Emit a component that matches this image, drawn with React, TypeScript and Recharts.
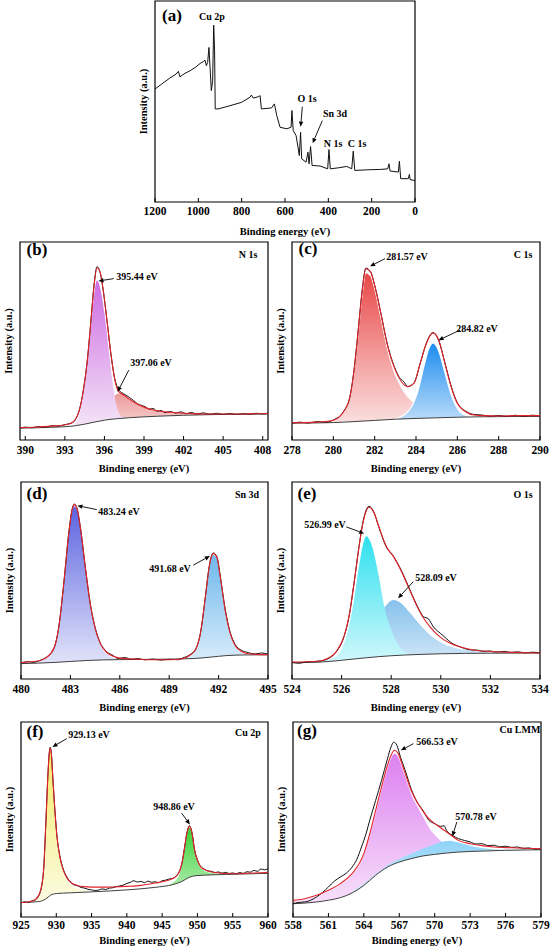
import React from 'react';
import { ComposedChart, Line, Area, XAxis, YAxis, ReferenceLine, ReferenceArea } from 'recharts';

type Pt = [number, number];

const FONT = '"Liberation Serif", "Times New Roman", serif';

// (a) survey spectrum
const surveyTicks = [0, 200, 400, 600, 800, 1000, 1200];
const surveyRaw: Pt[] = [
  [1200, 56.2], [1169, 58.7], [1131, 61.7], [1103, 63.6], [1092, 65.0], [1085, 62.3], [1062, 64.0],
  [1038, 65.3], [1015, 66.9], [992, 68.9], [977, 69.9], [969, 70.6], [963, 67.8], [957, 69.4],
  [951, 76.9], [946, 66.9], [940, 55.4], [934, 60.3], [929, 88.0], [925, 75.2], [922, 46.3],
  [908, 46.3], [854, 47.9], [800, 49.6], [762, 52.1], [755, 53.2], [746, 51.7], [723, 52.4],
  [715, 52.9], [709, 46.3], [662, 46.8], [649, 48.8], [638, 43.0], [623, 37.2], [592, 36.4],
  [572, 37.2], [568, 45.5], [562, 35.5], [549, 33.1], [540, 27.3], [534, 23.1], [528, 34.7],
  [523, 21.5], [503, 19.8], [494, 24.8], [489, 19.0], [482, 27.6], [475, 18.2], [438, 17.9],
  [403, 16.5], [397, 26.1], [391, 16.5], [354, 17.0], [315, 17.7], [292, 16.5], [285, 25.3],
  [278, 15.7], [223, 16.0], [162, 16.2], [126, 16.5], [120, 19.0], [115, 15.4], [77, 14.9],
  [72, 20.3], [66, 11.6], [31, 11.6], [26, 13.7], [22, 11.1], [0, 10.7],
];

// (b) N 1s
const n1sTicks = [390, 393, 396, 399, 402, 405, 408];
const n1sRaw: Pt[] = [
  [389.6, 6.0], [390, 6.5], [390.5, 6.2], [391, 6.8], [391.5, 6.5], [392, 7.2], [392.5, 7.0], [393, 7.8],
  [393.5, 8.5], [393.8, 10.3], [394.1, 15.2], [394.4, 25], [394.7, 40], [395, 62], [395.2, 77.5],
  [395.44, 87.5], [395.7, 84], [395.9, 76], [396.2, 60], [396.5, 43], [396.8, 30.5], [397.06, 25.5],
  [397.3, 24], [397.6, 22.8], [397.9, 21.5], [398.2, 20], [398.5, 18.3], [398.8, 17.5], [399.1, 16.8],
  [399.4, 15.6], [399.7, 15.9], [400, 14.5], [400.3, 14.9], [400.6, 13.8], [401, 14.4], [401.4, 13.6],
  [401.8, 14.2], [402.2, 13.3], [402.6, 13.9], [403, 13.1], [403.5, 13.7], [404, 13.0], [404.5, 13.5],
  [405, 12.9], [405.5, 13.4], [406, 12.9], [406.5, 13.3], [407, 13.0], [407.5, 13.5], [408, 13.2], [408.4, 13.6],
];
const n1sFit: Pt[] = [
  [389.6, 6.2], [391, 6.6], [392, 7.0], [393, 7.6], [393.5, 8.6], [393.8, 10.5], [394.1, 15], [394.4, 25],
  [394.7, 40], [395, 62], [395.2, 77], [395.44, 87], [395.7, 84], [395.9, 76], [396.2, 60], [396.5, 43],
  [396.8, 30], [397.06, 24.5], [397.4, 23], [397.8, 21], [398.2, 19.3], [398.6, 17.8], [399, 16.6],
  [399.5, 15.5], [400, 14.8], [401, 14], [402, 13.5], [403, 13.2], [404, 13.1], [406, 13.1], [407, 13.2], [408.4, 13.4],
];
const n1sBg: Pt[] = [
  [389.6, 6.0], [392, 6.4], [393, 6.7], [393.8, 7.2], [394.5, 8.0], [395.2, 9.0], [396, 10.0], [397, 10.8],
  [398, 11.3], [400, 12.0], [402, 12.5], [404, 12.8], [406, 13.0], [408.4, 13.1],
];
const n1sPeak397: Pt[] = [
  [393.5, 6.8], [394.2, 8], [394.8, 9.8], [395.3, 12], [395.8, 15], [396.3, 19], [396.7, 22], [397.06, 23.5],
  [397.5, 22.8], [398, 20.5], [398.5, 18.3], [399, 16.7], [399.5, 15.5], [400, 14.7], [401, 13.9], [402, 13.5],
  [404, 13.2], [406, 13.1], [408.4, 13.3],
];
const n1sPeak395: Pt[] = [
  [393.3, 6.8], [393.8, 8.5], [394.1, 13], [394.4, 23], [394.7, 38], [395, 58], [395.2, 72], [395.44, 80.5],
  [395.7, 76], [396, 64], [396.3, 47], [396.6, 30], [396.9, 18], [397.2, 12.5], [397.6, 11.2], [398, 11.3],
];

// (c) C 1s
const c1sTicks = [278, 280, 282, 284, 286, 288, 290];
const c1sRaw: Pt[] = [
  [278, 8.5], [278.4, 9.0], [278.8, 8.6], [279.2, 9.3], [279.6, 9.0], [280, 10.1], [280.5, 14.5], [280.8, 21.6],
  [281, 35.2], [281.2, 55], [281.4, 75.8], [281.57, 86.8], [281.8, 85], [282, 78.2], [282.3, 64], [282.6, 49],
  [283, 35.8], [283.2, 31.5], [283.4, 29.6], [283.6, 27], [283.9, 28.8], [284.2, 38.5], [284.5, 48.9],
  [284.82, 54.3], [285.1, 50.2], [285.4, 38.9], [285.7, 27.2], [286, 18.8], [286.4, 14.6], [286.8, 12.9],
  [287.2, 12.6], [287.6, 12.0], [288, 12.4], [288.4, 11.9], [288.8, 12.5], [289.2, 12.0], [289.6, 12.5], [290, 12.2],
];
const c1sFit: Pt[] = [
  [278, 8.7], [279, 8.9], [279.5, 9.2], [280, 10], [280.5, 14.3], [280.8, 21.8], [281, 35], [281.2, 55],
  [281.4, 75.6], [281.57, 86.5], [281.8, 84.9], [282, 78], [282.3, 63.9], [282.6, 48.7], [283, 35.3],
  [283.3, 29.4], [283.6, 26.9], [283.9, 28.6], [284.2, 38.7], [284.5, 48.7], [284.82, 54.1], [285.1, 50.4],
  [285.4, 38.7], [285.7, 26.9], [286, 18.5], [286.4, 14.3], [286.8, 12.6], [287.2, 12.3], [288, 12.1], [289, 12.3], [290, 12.3],
];
const c1sBg: Pt[] = [
  [278, 8.5], [280, 8.8], [281, 9.3], [282, 9.9], [283, 10.5], [284, 10.9], [285, 11.2], [286, 11.5], [287, 11.7], [290, 11.9],
];
const c1sPeak281: Pt[] = [
  [279, 8.8], [279.5, 9.0], [280, 9.8], [280.5, 14], [280.8, 21.5], [281, 34.5], [281.2, 54], [281.4, 74],
  [281.57, 84.5], [281.8, 83], [282, 76.5], [282.3, 62], [282.6, 47], [283, 33], [283.3, 26.5], [283.6, 22],
  [284, 18], [284.5, 14.5], [285, 12.5], [285.5, 11.6], [286, 11.5],
];
const c1sPeak284: Pt[] = [
  [283, 10.6], [283.4, 12.5], [283.8, 17], [284.1, 25], [284.4, 38], [284.6, 45.5], [284.82, 49], [285.1, 45],
  [285.4, 34], [285.7, 23], [286, 16], [286.4, 12.5], [286.8, 11.7], [287.2, 11.7],
];

// (d) Sn 3d
const sn3dTicks = [480, 483, 486, 489, 492, 495];
const sn3dRaw: Pt[] = [
  [480, 8.0], [480.4, 8.8], [480.8, 8.5], [481.2, 9.6], [481.5, 10.8], [482, 15.5], [482.3, 26.8], [482.6, 48.8],
  [482.9, 74], [483.1, 86], [483.24, 88.8], [483.4, 86.7], [483.6, 77.4], [483.9, 57.2], [484.2, 38.6],
  [484.5, 26.2], [484.8, 18.6], [485.2, 13.9], [485.6, 11.9], [485.9, 10.4], [486.3, 10.9], [486.7, 10.0],
  [487.1, 10.4], [487.5, 9.7], [488, 10.1], [488.5, 9.6], [489, 10.0], [489.5, 9.8], [489.8, 10.6],
  [490.3, 12.6], [490.6, 15.1], [490.9, 23.5], [491.2, 42], [491.4, 55.6], [491.55, 62], [491.68, 64],
  [491.9, 62], [492.1, 52.3], [492.4, 35.5], [492.7, 23.8], [493, 17.6], [493.4, 14.5], [493.8, 13.4],
  [494.2, 12.7], [494.6, 13.2], [495, 12.6],
];
const sn3dFit: Pt[] = [
  [480, 8.4], [481, 9.1], [481.5, 10.6], [482, 15.7], [482.3, 26.6], [482.6, 48.6], [482.9, 73.9], [483.1, 85.7],
  [483.24, 88.5], [483.4, 86.5], [483.6, 77.2], [483.9, 57], [484.2, 38.4], [484.5, 25.8], [484.8, 18.2],
  [485.2, 13.5], [485.6, 11.5], [486, 10.6], [487, 10.1], [488, 9.8], [489, 9.8], [489.8, 10.3], [490.3, 12.3],
  [490.6, 14.8], [490.9, 23.3], [491.2, 41.8], [491.4, 55.3], [491.55, 61.7], [491.68, 63.7], [491.9, 61.7],
  [492.1, 51.9], [492.4, 35], [492.7, 23.3], [493, 17], [493.4, 14], [493.8, 12.8], [494.3, 12.5], [495, 12.3],
];
const sn3dBg: Pt[] = [
  [480, 7.8], [482, 8.4], [483, 8.9], [484, 9.4], [485, 9.7], [487, 9.9], [489, 10.1], [490.5, 10.4],
  [491.5, 11.1], [492.5, 11.9], [493.5, 12.2], [495, 12.3],
];
const sn3dPeak483: Pt[] = [
  [481, 8.9], [481.5, 10.4], [482, 15.4], [482.3, 26.2], [482.6, 48], [482.9, 73], [483.1, 84.8], [483.24, 87.6],
  [483.4, 85.6], [483.6, 76.4], [483.9, 56.3], [484.2, 37.8], [484.5, 25.2], [484.8, 17.6], [485.2, 12.8],
  [485.6, 10.8], [486, 10],
];
const sn3dPeak491: Pt[] = [
  [489.5, 10.2], [490.3, 11.9], [490.6, 14.3], [490.9, 22.7], [491.2, 41], [491.4, 54.5], [491.55, 61],
  [491.68, 63], [491.9, 61], [492.1, 51.2], [492.4, 34.3], [492.7, 22.6], [493, 16.4], [493.4, 13.4],
  [493.8, 12.4], [494.3, 12.3],
];

// (e) O 1s
const o1sTicks = [524, 526, 528, 530, 532, 534];
const o1sRaw: Pt[] = [
  [524, 8.4], [524.3, 8.0], [524.6, 8.7], [525, 8.9], [525.3, 9.6], [525.5, 10.6], [525.8, 14], [526.1, 21.6],
  [526.3, 31.7], [526.5, 48.6], [526.7, 67.1], [526.85, 78.9], [527, 86], [527.1, 87.7], [527.3, 84.8],
  [527.5, 77.2], [527.8, 67.1], [528.1, 62.1], [528.4, 55.3], [528.7, 46.9], [529, 38.4], [529.3, 31.7],
  [529.5, 30.5], [529.7, 26.5], [530, 23], [530.2, 20.8], [530.4, 18.6], [530.8, 16.2], [531.2, 14.8],
  [531.5, 14.6], [531.7, 14.0], [532, 14.2], [532.2, 13.7], [532.6, 14.0], [532.8, 13.5], [533.1, 13.8],
  [533.4, 13.3], [533.7, 13.6], [534, 13.2],
];
const o1sFit: Pt[] = [
  [524, 8.6], [525, 9.0], [525.5, 10.8], [525.8, 14.2], [526.1, 21.8], [526.3, 31.9], [526.5, 48.4], [526.7, 66.8],
  [526.85, 78.5], [527, 85.5], [527.1, 87.2], [527.3, 84.5], [527.5, 77.4], [527.8, 67.4], [528.1, 62],
  [528.4, 55], [528.7, 46.5], [529, 38], [529.3, 31], [529.6, 26], [530, 21], [530.4, 18], [530.8, 16.2],
  [531.2, 15], [531.7, 14.2], [532.2, 13.8], [532.8, 13.5], [533.4, 13.3], [534, 13.2],
];
const o1sBg: Pt[] = [
  [524, 8.3], [525, 8.5], [526, 9.5], [527, 10.8], [528, 11.8], [529, 12.4], [530, 12.8], [531, 13.0], [532, 13.1], [534, 13.2],
];
const o1sPeak528: Pt[] = [
  [524.5, 8.4], [525, 8.9], [525.8, 11], [526.4, 14], [527, 22], [527.5, 32], [527.8, 37.5], [528.09, 40.1],
  [528.4, 38.5], [528.8, 33], [529.2, 27], [529.6, 22], [530, 18.5], [530.5, 16], [531, 14.8], [531.5, 14],
  [532, 13.5], [533, 13.3], [534, 13.2],
];
const o1sPeak526: Pt[] = [
  [525.2, 8.8], [525.5, 9.5], [525.9, 13], [526.2, 22], [526.5, 40], [526.7, 57], [526.9, 70], [526.99, 72.5],
  [527.15, 70], [527.3, 64], [527.5, 52], [527.7, 38], [528, 25], [528.3, 17], [528.7, 13], [529.2, 12.3],
];

// (f) Cu 2p
const cu2pTicks = [925, 930, 935, 940, 945, 950, 955, 960];
const cu2pRaw: Pt[] = [
  [925, 7.2], [925.5, 7.8], [926, 7.5], [926.5, 8.2], [927, 8.7], [927.7, 12.5], [928.2, 24], [928.5, 46.5],
  [928.8, 72], [929, 84], [929.13, 87], [929.3, 84], [929.5, 72], [929.8, 55], [930.1, 41.5], [930.5, 31.5],
  [931, 24.5], [931.5, 20.5], [932, 18], [932.5, 16.5], [933, 16], [933.5, 15.2], [934, 14.8], [934.5, 14.2],
  [935, 13.9], [935.5, 13.6], [936, 13.8], [936.5, 14.4], [937, 14.1], [937.5, 14.8], [938, 15.0], [938.5, 15.6],
  [939, 15.9], [939.5, 16.4], [940, 17.2], [940.5, 17.8], [941, 18.6], [941.5, 17.9], [942, 18.3], [942.5, 17.6],
  [943, 18.4], [943.5, 17.8], [944, 18.1], [944.5, 17.6], [945, 18.6], [945.5, 18.9], [946, 19.5], [946.5, 19.8],
  [947, 21], [947.3, 22.4], [947.8, 27.6], [948.2, 36.2], [948.5, 43], [948.86, 46.8], [949.2, 43.8],
  [949.6, 34.5], [950, 29.3], [950.5, 25.8], [951, 24.5], [951.5, 23.6], [952, 23.4], [952.5, 22.8], [953, 23.1],
  [953.5, 22.5], [954, 22.9], [954.5, 22.3], [955, 22.6], [955.5, 22.2], [956, 22.8], [956.5, 22.4], [957, 23.2],
  [957.5, 23.0], [958, 23.9], [958.5, 23.4], [959, 24.6], [959.5, 24.2], [960, 24.8],
];
const cu2pFit: Pt[] = [
  [925, 7.4], [926, 7.7], [927, 8.9], [927.7, 12.8], [928.2, 23.9], [928.5, 46.2], [928.8, 71.8], [929, 83.8],
  [929.13, 86.7], [929.3, 83.8], [929.5, 71.8], [929.8, 54.7], [930.1, 41], [930.5, 30.8], [931, 23.9],
  [931.5, 20], [932, 17.9], [933, 16.2], [934, 15.6], [936, 15.3], [938, 15.4], [940, 15.7], [942, 16.2],
  [944, 17.4], [945.5, 18.5], [946.5, 19.7], [947.3, 22.2], [947.8, 27.4], [948.2, 35.9], [948.5, 42.7],
  [948.86, 46.5], [949.2, 43.6], [949.6, 34.2], [950, 29], [950.5, 25.6], [951, 24.3], [952, 23.1], [953, 22.6],
  [955, 22.2], [957, 22.4], [959, 22.7], [960, 22.9],
];
const cu2pBg: Pt[] = [
  [925, 7.4], [927.5, 7.9], [928.5, 9.2], [929.2, 11.2], [930, 12.0], [932, 12.4], [935, 12.9], [940, 13.9],
  [944, 15.2], [946.5, 16.6], [947.8, 18.2], [948.8, 20.3], [949.8, 21.2], [952, 21.6], [956, 22.0], [960, 22.4],
];
const cu2pPeak929: Pt[] = [
  [926.5, 7.9], [927, 8.4], [927.7, 12.2], [928.2, 23], [928.5, 45], [928.8, 70.5], [929, 82.6], [929.13, 85.5],
  [929.3, 82.6], [929.5, 70.5], [929.8, 53.5], [930.1, 40], [930.5, 30], [931, 22.8], [931.5, 18.8], [932, 16.6],
  [933, 14.6], [934, 13.6], [936, 13.2], [938, 13.5],
];
const cu2pPeak948: Pt[] = [
  [945.5, 16.0], [946.5, 17.6], [947.3, 20.6], [947.8, 26.5], [948.2, 35], [948.5, 42], [948.86, 45.8], [949.2, 43],
  [949.6, 33.6], [950, 28.3], [950.5, 25], [951, 23.6], [952, 22.6], [953, 22.2], [955, 22.0], [957, 22.1],
];

// (g) Cu LMM
const culmmTicks = [558, 561, 564, 567, 570, 573, 576, 579];
const culmmRaw: Pt[] = [
  [558, 6.8], [558.5, 7.5], [559, 7.7], [559.5, 8.6], [560, 10.3], [560.5, 12.6], [561, 15.4], [561.5, 18.4],
  [562, 20.5], [562.5, 22.4], [563, 25.6], [563.4, 29.5], [563.8, 35.9], [564.2, 43], [564.5, 49.6], [565, 59.8],
  [565.5, 70.1], [566, 81.2], [566.3, 87.2], [566.53, 89.7], [566.8, 88], [567.1, 82], [567.5, 75.2], [568, 65.8],
  [568.5, 59], [569, 54.7], [569.5, 49.6], [570, 47.9], [570.5, 46.5], [570.8, 46.8], [571, 44.4], [571.5, 41.9],
  [572, 40.2], [572.5, 39.3], [573, 38.5], [573.5, 37.4], [574, 37.6], [574.5, 36.6], [575, 36.8], [575.5, 36.0],
  [576, 36.3], [576.5, 35.7], [577, 35.9], [577.5, 35.2], [578, 35.4], [578.5, 34.8], [579, 34.9],
];
const culmmFit: Pt[] = [
  [558, 8.5], [559, 9.4], [560, 11.1], [561, 13.7], [562, 17.1], [563, 22.2], [564, 32.5], [564.5, 42.7],
  [565, 54.7], [565.5, 66.7], [566, 77.8], [566.3, 82.9], [566.6, 85.5], [566.9, 83.8], [567.2, 79], [567.6, 71.8],
  [568, 65], [568.5, 59], [569, 54.4], [569.5, 50.4], [570, 47.9], [570.5, 45.8], [571, 43.6], [571.5, 41.4],
  [572, 39.3], [573, 37.6], [574, 36.6], [575, 35.9], [576, 35.6], [577, 35.4], [579, 35],
];
const culmmBg: Pt[] = [
  [558, 6.8], [560, 7.7], [561, 8.6], [562, 9.9], [563, 12.3], [564, 16.2], [565, 21.4], [566, 25.6], [567, 28.2],
  [568, 29.9], [569, 31.3], [570, 32.1], [571, 32.8], [572, 33.3], [574, 33.8], [576, 34.2], [579, 34.5],
];
const culmmPeak566: Pt[] = [
  [558, 8.2], [559, 9.0], [560, 10.7], [561, 13.2], [562, 16.5], [563, 21.5], [564, 31.5], [564.5, 41.5],
  [565, 53], [565.5, 65], [566, 76], [566.3, 81.3], [566.6, 83.8], [566.9, 82], [567.2, 77], [567.6, 70],
  [568, 63], [568.5, 57], [569, 51.5], [569.5, 46], [570, 42], [570.5, 39], [571, 36.5], [572, 34.6], [573, 34],
];
const culmmPeak570: Pt[] = [
  [563, 13], [564, 17], [565, 22], [566, 26.5], [567, 29.8], [568, 32.5], [569, 35], [570, 37.3], [570.8, 38.8],
  [571.3, 39.1], [572, 38.2], [573, 36.6], [574, 35.4], [575, 34.8], [576, 34.5], [579, 34.5],
];

const rows = (pts: Pt[]) => pts.map(([x, y]) => ({ x, y }));

interface Fill {
  pts: Pt[];
  top: string;
  bottom: string;
  edge?: string;
}

interface Spec {
  id: string;
  box: [number, number, number, number];
  domain: [number, number];
  ticks: number[];
  reversed?: boolean;
  raw: Pt[];
  fit?: Pt[];
  bg?: Pt[];
  fills?: Fill[];
  arrows: [Pt, Pt][];
  tickGap: number;
  titleGap: number;
  curve: 'monotone' | 'linear';
}

const specs: Spec[] = [
  {
    id: 'a', box: [155, 1, 415, 202], domain: [0, 1200], ticks: surveyTicks, reversed: true,
    raw: surveyRaw, curve: 'linear', tickGap: 9, titleGap: 29,
    arrows: [[[520, 47.4], [527.7, 37.5]], [[427.7, 40.5], [472.3, 29.3]]],
  },
  {
    id: 'b', box: [20, 242, 268, 440], domain: [389.6, 408.4], ticks: n1sTicks,
    raw: n1sRaw, fit: n1sFit, bg: n1sBg, curve: 'monotone', tickGap: 10, titleGap: 28,
    fills: [
      { pts: n1sPeak397, top: '#ec9a9a', bottom: '#fbeaea' },
      { pts: n1sPeak395, top: '#cf6ee3', bottom: '#f7eef9' },
    ],
    arrows: [[[396.7, 81.5], [395.55, 80.3]], [[397.85, 35.3], [397.0, 24.4]]],
  },
  {
    id: 'c', box: [292, 242, 540, 440], domain: [278, 290], ticks: c1sTicks,
    raw: c1sRaw, fit: c1sFit, bg: c1sBg, curve: 'monotone', tickGap: 10, titleGap: 28,
    fills: [
      { pts: c1sPeak281, top: '#e94848', bottom: '#fdf0f0', edge: '#ffffff' },
      { pts: c1sPeak284, top: '#1b8cf0', bottom: '#e3f0fb', edge: '#ffffff' },
    ],
    arrows: [[[282.5, 91.6], [281.78, 87.7]], [[286.13, 55.5], [285.09, 50.4]]],
  },
  {
    id: 'd', box: [21, 482, 268, 679], domain: [480, 495], ticks: sn3dTicks,
    raw: sn3dRaw, fit: sn3dFit, bg: sn3dBg, curve: 'monotone', tickGap: 10, titleGap: 28,
    fills: [
      { pts: sn3dPeak483, top: '#5c63e0', bottom: '#eef0fc' },
      { pts: sn3dPeak491, top: '#6fb8ec', bottom: '#eaf5fd' },
    ],
    arrows: [[[484.6, 86], [483.43, 88]], [[490.46, 57.8], [491.47, 62.4]]],
  },
  {
    id: 'e', box: [292, 482, 540, 679], domain: [524, 534], ticks: o1sTicks,
    raw: o1sRaw, fit: o1sFit, bg: o1sBg, curve: 'monotone', tickGap: 10, titleGap: 28,
    fills: [
      { pts: o1sPeak528, top: '#86c1ec', bottom: '#e7f2fb' },
      { pts: o1sPeak526, top: '#2fe0ef', bottom: '#e6fbfd' },
    ],
    arrows: [[[526.19, 77.2], [526.91, 73.9]], [[528.89, 49.4], [528.28, 41]]],
  },
  {
    id: 'f', box: [21, 722, 268, 917], domain: [925, 960], ticks: cu2pTicks,
    raw: cu2pRaw, fit: cu2pFit, bg: cu2pBg, curve: 'monotone', tickGap: 8, titleGap: 23,
    fills: [
      { pts: cu2pPeak929, top: '#f2ec6a', bottom: '#fdfcec' },
      { pts: cu2pPeak948, top: '#36d236', bottom: '#e6f8e2' },
    ],
    arrows: [[[931.5, 91.5], [929.46, 87.2]], [[947.75, 53.3], [948.93, 47.5]]],
  },
  {
    id: 'g', box: [293, 722, 541, 917], domain: [558, 579], ticks: culmmTicks,
    raw: culmmRaw, fit: culmmFit, bg: culmmBg, curve: 'monotone', tickGap: 8, titleGap: 23,
    fills: [
      { pts: culmmPeak566, top: '#dc80f0', bottom: '#fae9fc' },
      { pts: culmmPeak570, top: '#8fd3f7', bottom: '#e6f4fc' },
    ],
    arrows: [[[568.19, 88.9], [567.14, 85.5]], [[571.87, 48.7], [571.5, 41.4]]],
  },
];

// text placed on the page: [text, x, y, size]
const labels: [string, number, number, number][] = [
  ['(a)', 172, 15, 17], ['Cu 2p', 212, 17, 10], ['O 1s', 307, 99, 10], ['Sn 3d', 335, 114, 10],
  ['N 1s', 333, 144, 10], ['C 1s', 357, 144, 10],
  ['(b)', 37, 249, 17], ['N 1s', 248, 255, 10], ['395.44 eV', 137, 277, 10], ['397.06 eV', 151, 363, 10],
  ['(c)', 308, 248, 17], ['C 1s', 523, 255, 10], ['281.57 eV', 407, 257, 10], ['284.82 eV', 477, 329, 10],
  ['(d)', 37, 493, 17], ['Sn 3d', 247, 495, 10], ['483.24 eV', 119, 512, 10], ['491.68 eV', 170, 569, 10],
  ['(e)', 307, 493, 17], ['O 1s', 523, 495, 10], ['526.99 eV', 325, 525, 10], ['528.09 eV', 436, 578, 10],
  ['(f)', 35, 731, 17], ['Cu 2p', 248, 733, 10], ['929.13 eV', 89, 735, 10], ['948.86 eV', 174, 807, 10],
  ['(g)', 307, 730, 17], ['Cu LMM', 520, 730, 10], ['566.53 eV', 437, 742, 10], ['570.78 eV', 476, 817, 10],
];

const arrowShape = (p: any) => {
  const { x1, y1, x2, y2 } = p;
  const a = Math.atan2(y2 - y1, x2 - x1);
  const len = 5;
  const half = 2.2;
  const bx = x2 - len * Math.cos(a);
  const by = y2 - len * Math.sin(a);
  const nx = -Math.sin(a) * half;
  const ny = Math.cos(a) * half;
  return (
    <g>
      <line x1={x1} y1={y1} x2={bx} y2={by} stroke="#000" strokeWidth={0.9} />
      <polygon points={`${x2},${y2} ${bx + nx},${by + ny} ${bx - nx},${by - ny}`} fill="#000" />
    </g>
  );
};

const YPAD = 26;
const RPAD = 12;
const BOTTOM = 44;
const textStyle = { fontFamily: FONT, fontWeight: 'bold' as const, fill: '#000' };

function Panel({ s }: { s: Spec }) {
  const [l, t, r, b] = s.box;
  const w = r - l + YPAD + RPAD;
  const h = b - t + 4 + BOTTOM;
  return (
    <div style={{ position: 'absolute', left: l - YPAD, top: t - 4 }}>
      <ComposedChart width={w} height={h} margin={{ top: 4, right: RPAD, bottom: 0, left: 0 }}>
        <defs>
          {(s.fills || []).map((f, i) => (
            <linearGradient key={i} id={`grad-${s.id}-${i}`} x1="0" y1="0" x2="0" y2="1">
              <stop offset="0%" stopColor={f.top} />
              <stop offset="100%" stopColor={f.bottom} />
            </linearGradient>
          ))}
        </defs>
        <XAxis
          dataKey="x"
          type="number"
          domain={s.domain}
          ticks={s.ticks}
          reversed={s.reversed}
          allowDataOverflow
          interval={0}
          height={BOTTOM}
          axisLine={false}
          tickSize={-4}
          tickMargin={s.tickGap}
          tickLine={{ stroke: '#000', strokeWidth: 1 }}
          tick={{ ...textStyle, fontSize: 11.5 }}
          label={(p: any) => (
            <text
              x={p.viewBox.x + p.viewBox.width / 2}
              y={p.viewBox.y + s.titleGap}
              textAnchor="middle"
              dominantBaseline="central"
              fontSize={10.5}
              style={textStyle}
            >
              Binding energy (eV)
            </text>
          )}
        />
        <YAxis
          type="number"
          domain={[0, 100]}
          allowDataOverflow
          width={YPAD}
          tick={false}
          tickLine={false}
          axisLine={false}
          label={(p: any) => {
            const cx = p.viewBox.x + p.viewBox.width - 12;
            const cy = p.viewBox.y + p.viewBox.height / 2;
            return (
              <text
                x={cx}
                y={cy}
                transform={`rotate(-90 ${cx} ${cy})`}
                textAnchor="middle"
                dominantBaseline="central"
                fontSize={10.5}
                style={textStyle}
              >
                Intensity (a.u.)
              </text>
            );
          }}
        />
        {(s.fills || []).map((f, i) => (
          <Area
            key={`fill-${i}`}
            data={rows(f.pts)}
            dataKey="y"
            type="monotone"
            fill={`url(#grad-${s.id}-${i})`}
            fillOpacity={1}
            stroke={f.edge || 'none'}
            strokeWidth={1.2}
            isAnimationActive={false}
          />
        ))}
        {s.bg && (
          <Area
            data={rows(s.bg)}
            dataKey="y"
            type="monotone"
            fill="#ffffff"
            fillOpacity={1}
            stroke="none"
            isAnimationActive={false}
          />
        )}
        {s.bg && (
          <Line data={rows(s.bg)} dataKey="y" type="monotone" stroke="#404040" strokeWidth={1} dot={false} isAnimationActive={false} />
        )}
        <Line data={rows(s.raw)} dataKey="y" type={s.curve} stroke="#111" strokeWidth={1} dot={false} isAnimationActive={false} />
        {s.fit && (
          <Line data={rows(s.fit)} dataKey="y" type="monotone" stroke="#e3222a" strokeWidth={1.1} dot={false} isAnimationActive={false} />
        )}
        {s.arrows.map((ar, i) => (
          <ReferenceLine
            key={`arrow-${i}`}
            segment={[{ x: ar[0][0], y: ar[0][1] }, { x: ar[1][0], y: ar[1][1] }]}
            shape={arrowShape}
            ifOverflow="visible"
          />
        ))}
        <ReferenceArea
          x1={s.domain[0]}
          x2={s.domain[1]}
          y1={0}
          y2={100}
          fill="none"
          fillOpacity={0}
          stroke="#000"
          strokeWidth={1.2}
          ifOverflow="visible"
        />
      </ComposedChart>
    </div>
  );
}

export default function App() {
  return (
    <div
      style={{
        position: 'absolute',
        left: 0,
        top: 0,
        width: 550,
        height: 952,
        background: '#fff',
        overflow: 'hidden',
        fontFamily: FONT,
      }}
    >
      {specs.map((s) => (
        <Panel key={s.id} s={s} />
      ))}
      {labels.map(([txt, x, y, size], i) => (
        <div
          key={i}
          style={{
            position: 'absolute',
            left: x,
            top: y,
            transform: 'translate(-50%, -50%)',
            fontSize: size,
            fontWeight: 'bold',
            lineHeight: 1,
            whiteSpace: 'nowrap',
            color: '#000',
          }}
        >
          {txt}
        </div>
      ))}
    </div>
  );
}
